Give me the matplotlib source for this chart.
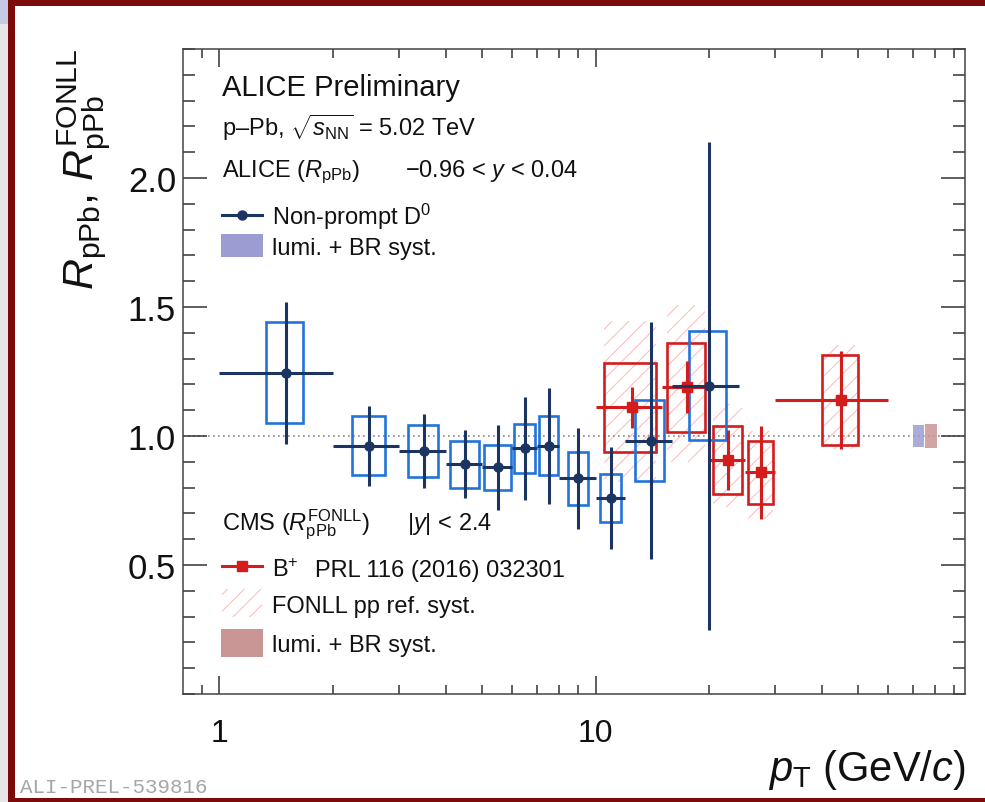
import matplotlib
matplotlib.use('Agg')
import matplotlib.pyplot as plt
from matplotlib.patches import Rectangle
from matplotlib.lines import Line2D
from matplotlib.ticker import MultipleLocator, NullFormatter

plt.rcParams['font.family'] = ['Liberation Sans', 'DejaVu Sans']
plt.rcParams['mathtext.fontset'] = 'custom'
plt.rcParams['mathtext.rm'] = 'Liberation Sans'
plt.rcParams['mathtext.it'] = 'Liberation Sans:italic'
plt.rcParams['mathtext.bf'] = 'Liberation Sans:bold'
plt.rcParams['hatch.linewidth'] = 0.7

# ALICE non-prompt D0, R_pPb
d0_edges = [1, 2, 3, 4, 5, 6, 7, 8, 10, 12, 16, 24]
d0_pt = [1.5, 2.5, 3.5, 4.5, 5.5, 6.5, 7.5, 9, 11, 14, 20]
d0_r = [1.245, 0.962, 0.943, 0.891, 0.878, 0.952, 0.962, 0.836, 0.759, 0.982, 1.195]
d0_stat = [0.275, 0.155, 0.143, 0.131, 0.164, 0.201, 0.224, 0.195, 0.197, 0.458, 0.945]
d0_syst = [0.195, 0.115, 0.100, 0.091, 0.089, 0.095, 0.115, 0.102, 0.094, 0.158, 0.212]
d0_box_hw = [0.17, 0.25, 0.32, 0.41, 0.45, 0.42, 0.43, 0.57, 0.71, 1.23, 2.25]

# CMS B+, R_pPb^FONLL
b_edges = [10, 15, 20, 25, 30, 60]
b_pt = [12.5, 17.5, 22.5, 27.5, 45]
b_r = [1.111, 1.189, 0.907, 0.859, 1.140]
b_stat = [0.080, 0.100, 0.118, 0.179, 0.190]
b_syst = [0.172, 0.172, 0.133, 0.122, 0.173]
b_fonll_up = [0.333, 0.317, 0.217, 0.160, 0.214]
b_fonll_down = [0.290, 0.290, 0.184, 0.181, 0.190]
b_box_hw = [2, 2, 2, 2.1, 5]

# global normalisation (lumi + BR)
alice_norm = 0.042
cms_norm = 0.048

navy = '#1b3461'
blue = '#2274db'
red = '#d41c1c'
hatch_col = '#ffb8b8'
alice_lumi_col = '#9c9cd2'
cms_lumi_col = '#c99595'

W, H = 985, 803
fig = plt.figure(figsize=(W / 100, H / 100), dpi=100)


def fx(px):
    return px / W


def fy(py):
    return 1 - py / H


# frame around the figure
for x0, y0, w, h, c in [(0, 0, 8, 803, '#e6e6e6'), (0, 0, 8, 25, '#c6c9e6'),
                        (8, 1, 977, 6, '#7d0a0a'), (8, 1, 7, 802, '#7d0a0a'),
                        (8, 799, 977, 4, '#7d0a0a')]:
    fig.add_artist(Rectangle((fx(x0), fy(y0 + h)), w / W, h / H, color=c,
                             transform=fig.transFigure, lw=0))

ax = fig.add_axes([fx(183), fy(695), 782 / W, 645 / H])
ax.set_xscale('log')
ax.set_xlim(0.8, 96)
ax.set_ylim(0, 2.5)

ax.axhline(1.0, color='#888888', ls=(0, (1, 2.0)), lw=1.2, zorder=1.5)

# FONLL pp reference uncertainty and CMS syst. boxes
for pt, r, hw, up, dn, sy in zip(b_pt, b_r, b_box_hw, b_fonll_up, b_fonll_down, b_syst):
    ax.add_patch(Rectangle((pt - hw, r - dn), 2 * hw, up + dn, facecolor='none',
                           edgecolor=hatch_col, hatch='//', lw=0, zorder=1))
    ax.add_patch(Rectangle((pt - hw, r - sy), 2 * hw, 2 * sy, facecolor='none',
                           edgecolor=red, lw=1.9, zorder=2))

# ALICE syst. boxes
for pt, r, hw, sy in zip(d0_pt, d0_r, d0_box_hw, d0_syst):
    ax.add_patch(Rectangle((pt - hw, r - sy), 2 * hw, 2 * sy, facecolor='none',
                           edgecolor=blue, lw=1.9, zorder=2.5))

b_xerr = [[p - lo for p, lo in zip(b_pt, b_edges[:-1])],
          [hi - p for p, hi in zip(b_pt, b_edges[1:])]]
ax.errorbar(b_pt, b_r, xerr=b_xerr, yerr=b_stat, fmt='s', color=red, ms=6.5,
            elinewidth=2.2, capsize=0, zorder=3)

d0_xerr = [[p - lo for p, lo in zip(d0_pt, d0_edges[:-1])],
           [hi - p for p, hi in zip(d0_pt, d0_edges[1:])]]
ax.errorbar(d0_pt, d0_r, xerr=d0_xerr, yerr=d0_stat, fmt='o', color=navy, ms=6.5,
            elinewidth=2.2, capsize=0, zorder=4)

# global normalisation boxes at unity
ax.add_patch(Rectangle((70, 1 - alice_norm), 4.6, 2 * alice_norm,
                       facecolor=alice_lumi_col, alpha=0.85, lw=0, zorder=3))
ax.add_patch(Rectangle((75, 1 - cms_norm), 6, 2 * cms_norm,
                       facecolor=cms_lumi_col, alpha=0.85, lw=0, zorder=3))

# axes styling, ticks on all four sides
ax.set_xticks([1, 10], ['1', '10'])
ax.set_xticks([0.9, 2, 3, 4, 5, 6, 7, 8, 9, 20, 30, 40, 50, 60, 70, 80, 90], minor=True)
ax.xaxis.set_minor_formatter(NullFormatter())
ax.set_yticks([0.5, 1.0, 1.5, 2.0], ['0.5', '1.0', '1.5', '2.0'])
ax.yaxis.set_minor_locator(MultipleLocator(0.1))
ax.tick_params(which='both', direction='in', top=True, right=True,
               color='#333333', width=1.1, labelcolor='#111111')
ax.tick_params(axis='x', which='major', length=13, pad=17, labelsize=23)
ax.tick_params(axis='x', which='minor', length=6.5)
ax.tick_params(axis='y', which='major', length=17, pad=5, labelsize=25)
ax.tick_params(axis='y', which='minor', length=8.6)
for s in ax.spines.values():
    s.set_color('#444444')
    s.set_linewidth(1.1)

fig.text(fx(965), fy(781), r'$p_{\mathrm{T}}$ (GeV/$c$)', ha='right', va='baseline',
         fontsize=30, color='#111111')
fig.text(fx(84), fy(48), r'$R_{\mathrm{pPb}}$, $R_{\mathrm{pPb}}^{\mathrm{FONLL}}$',
         rotation=90, ha='center', va='top', fontsize=31, color='#111111')

# annotations and legend
tk = dict(ha='left', va='baseline', color='#111111')
fig.text(fx(222), fy(96), 'ALICE Preliminary', fontsize=21, **tk)
fig.text(fx(222), fy(136), 'p\u2013Pb, $\\sqrt{s_{\\mathrm{NN}}}$ = 5.02 TeV', fontsize=17, **tk)
fig.text(fx(222), fy(177), r'ALICE ($R_{\mathrm{pPb}}$)', fontsize=17, **tk)
fig.text(fx(405), fy(177), '\u22120.96 < $y$ < 0.04', fontsize=17, **tk)
fig.text(fx(272), fy(225), r'Non-prompt D$^{0}$', fontsize=17, **tk)
fig.text(fx(272), fy(255), 'lumi. + BR syst.', fontsize=17, **tk)
fig.text(fx(222), fy(530), r'CMS ($R_{\mathrm{pPb}}^{\mathrm{FONLL}}$)', fontsize=17, **tk)
fig.text(fx(407), fy(530), '|$y$| < 2.4', fontsize=17, **tk)
fig.text(fx(272), fy(577), r'B$^{+}$', fontsize=17, **tk)
fig.text(fx(315), fy(577), 'PRL 116 (2016) 032301', fontsize=17, **tk)
fig.text(fx(272), fy(613), 'FONLL pp ref. syst.', fontsize=17, **tk)
fig.text(fx(272), fy(652), 'lumi. + BR syst.', fontsize=17, **tk)

for yy, col, mk in [(215.7, navy, 'o'), (566.7, red, 's')]:
    fig.add_artist(Line2D([fx(222), fx(262)], [fy(yy)] * 2, color=col, lw=2.2,
                          transform=fig.transFigure))
    fig.add_artist(Line2D([fx(242)], [fy(yy)], color=col, marker=mk, ms=6.5,
                          transform=fig.transFigure))
fig.add_artist(Rectangle((fx(221), fy(258)), 42 / W, 23 / H, facecolor=alice_lumi_col,
                         lw=0, transform=fig.transFigure))
fig.add_artist(Rectangle((fx(222), fy(618)), 40 / W, 28 / H, facecolor='none',
                         edgecolor=hatch_col, hatch='//', lw=0, transform=fig.transFigure))
fig.add_artist(Rectangle((fx(221), fy(658)), 42 / W, 28 / H, facecolor=cms_lumi_col,
                         lw=0, transform=fig.transFigure))

fig.text(fx(20), fy(793), 'ALI-PREL-539816', fontsize=15, family='Liberation Mono',
         color='#a6a6a6', ha='left', va='baseline')

fig.savefig('out.png', dpi=100)
